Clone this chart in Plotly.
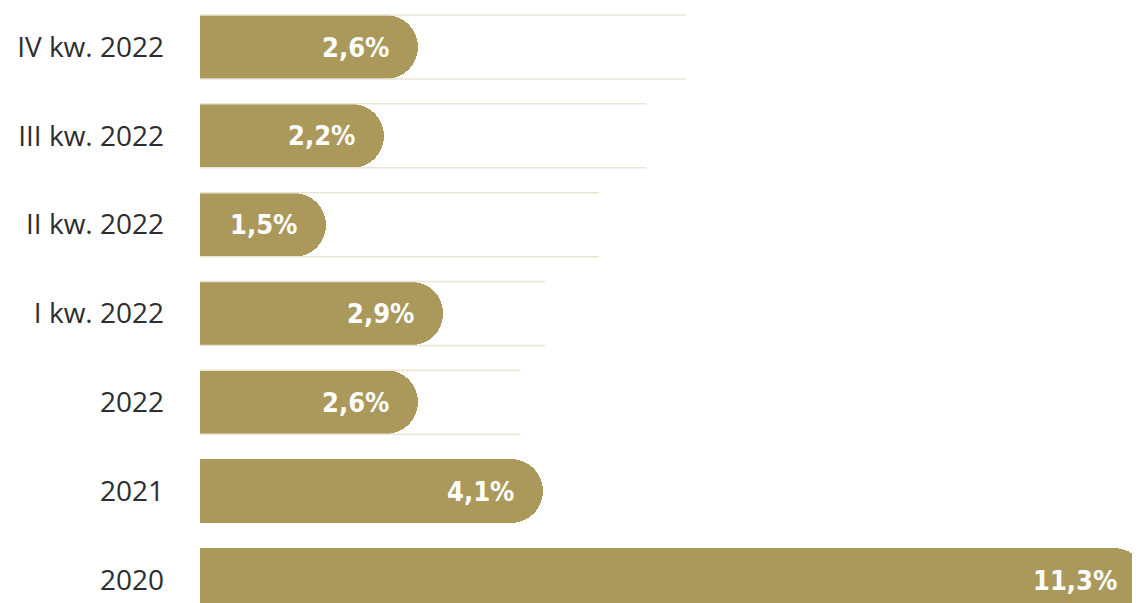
import plotly.graph_objects as go

categories = ["IV kw. 2022", "III kw. 2022", "II kw. 2022", "I kw. 2022", "2022", "2021", "2020"]
values = [2.6, 2.2, 1.5, 2.9, 2.6, 4.1, 11.3]
labels = ["2,6%", "2,2%", "1,5%", "2,9%", "2,6%", "4,1%", "11,3%"]
track = [5.8, 5.33, 4.76, 4.12, 3.83, None, None]

BAR = "#AB995B"
TRACK = "#EAE5D3"
BW = 0.72

pos = list(range(len(categories)))

fig = go.Figure()

# track lines (top and bottom edges of light background track)
tx, ty = [], []
for p, t in zip(pos, track):
    if t is None:
        continue
    for off in (-BW / 2, BW / 2):
        tx += [0, t, None]
        ty += [p + off, p + off, None]
fig.add_trace(go.Scatter(x=tx, y=ty, mode="lines", line=dict(color=TRACK, width=1.5),
                         hoverinfo="skip", showlegend=False))

fig.add_trace(go.Bar(x=values, y=pos, orientation="h", width=BW,
                     marker=dict(color=BAR, line=dict(width=0), cornerradius=32),
                     hoverinfo="skip", showlegend=False))

for p, v, lab in zip(pos, values, labels):
    fig.add_annotation(x=v, y=p, xref="x", yref="y", text=lab, showarrow=False,
                       xanchor="right", yanchor="middle", xshift=-27,
                       font=dict(family="Liberation Sans Narrow, DejaVu Sans Condensed, sans-serif",
                                 size=27, color="white", weight="bold"))

fig.update_layout(
    width=1140, height=603,
    margin=dict(l=192, r=0, t=0, b=0),
    paper_bgcolor="white", plot_bgcolor="white",
    bargap=0,
    xaxis=dict(range=[0, 11.32], visible=False, fixedrange=True),
    yaxis=dict(range=[6.349, -0.439], tickmode="array", tickvals=pos, ticktext=categories,
               showgrid=False, zeroline=False, showline=False, ticks="",
               ticklabelstandoff=35,
               tickfont=dict(family="Open Sans, sans-serif", size=28, color="#2e2e2e")),
)

fig.write_html("out.html")
